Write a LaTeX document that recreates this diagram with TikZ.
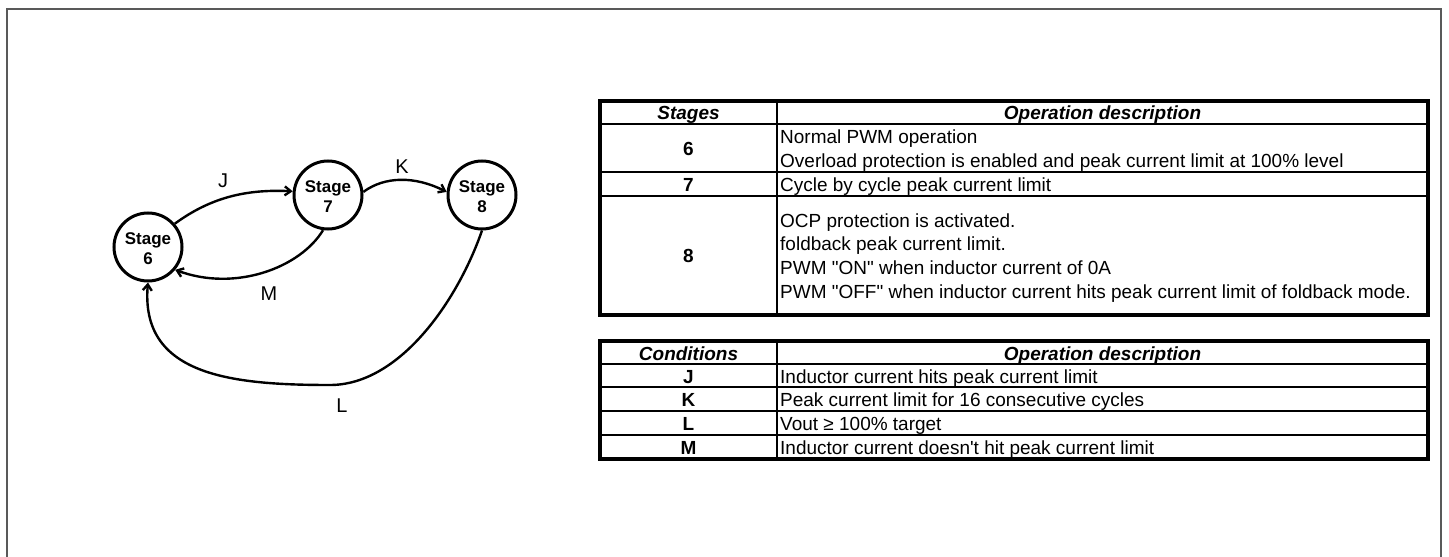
\documentclass[tikz,border=0pt]{standalone}
\usepackage{fontspec}
\setmainfont{Liberation Sans}[Ligatures=TeXOff]
\usetikzlibrary{arrows.meta}
\newcommand\tblfont{\fontsize{19.05}{24}\selectfont}
\newcommand\stgfont{\fontsize{17}{20}\selectfont}
\newcommand\lblfont{\fontsize{20}{22}\selectfont}
\begin{document}
\begin{tikzpicture}[x=1bp,y=-1bp,
  stage/.style={circle, draw, line width=3bp, minimum size=68bp, inner sep=0pt, align=center, font=\bfseries\stgfont},
  trans/.style={line width=2.4bp, -{Straight Barb[length=6bp,width=9bp]}},
  lbl/.style={font=\lblfont, inner sep=0pt},
  tout/.style={line width=3.5bp},
  tin/.style={line width=2bp},
  cell/.style={anchor=west, align=left, inner sep=0pt, font=\tblfont},
  one/.style={text height=15bp, text depth=0bp},
  key/.style={inner sep=0pt, font=\bfseries\tblfont, one},
  hdr/.style={inner sep=0pt, font=\bfseries\itshape\tblfont, one},
  frame/.style={draw=black!65, line width=1.5bp}
]
\useasboundingbox (0,0) rectangle (1449,557);
\draw[frame] (7,557) -- (7,9) -- (1441,9) -- (1441,557);

% state diagram
\node[stage] (s6) at (148,247) {\\[-4bp]Stage\\6};
\node[stage] (s7) at (328,195) {\\[-4bp]Stage\\7};
\node[stage] (s8) at (482,195) {\\[-4bp]Stage\\8};
\coordinate (lbot) at (330,385);
\draw[trans] (s6.41) .. controls (210,198) and (245,189) .. (s7.174);
\draw[trans] (s7.5) .. controls (385,176) and (415,176) .. (s8.175);
\draw[trans] (s7.262) .. controls (300,268) and (235,292) .. (s6.320);
\draw[trans] (s8.270) .. controls (458,300) and (400,385) .. (lbot)
                      .. controls (230,385) and (140,375) .. (s6.270);
\node[lbl] (lj) at (223,181) {J};
\node[lbl] (lk) at (402,167) {K};
\node[lbl] (lm) at (269,294) {M};
\node[lbl] (ll) at (342,406) {L};

% table 1
\draw[tin] (600,124) -- (1428,124);
\draw[tin] (600,172) -- (1428,172);
\draw[tin] (600,196) -- (1428,196);
\draw[tin] (777,101) -- (777,315);
\draw[tout] (600,101) rectangle (1428,315);
\node[hdr] (h1a) at (688.5,112.5) {Stages};
\node[hdr] (h1b) at (1102.5,112.5) {Operation description};
\node[key] (k6) at (688.5,148) {6};
\node[key] (k7) at (688.5,184) {7};
\node[key] (k8) at (688.5,255.5) {8};
\node[cell] (d6) at (780,150.5) {Normal PWM operation\\Overload protection is enabled and peak current limit at 100\% level};
\node[cell, one] (d7) at (780,184) {Cycle by cycle peak current limit};
\node[cell] (d8) at (780,258) {OCP protection is activated.\\foldback peak current limit.\\PWM "ON" when inductor current of 0A\\PWM "OFF" when inductor current hits peak current limit of foldback mode.};

% table 2
\draw[tin] (600,364) -- (1428,364);
\draw[tin] (600,387) -- (1428,387);
\draw[tin] (600,411) -- (1428,411);
\draw[tin] (600,435) -- (1428,435);
\draw[tin] (777,341) -- (777,459);
\draw[tout] (600,341) rectangle (1428,459);
\node[hdr] (h2a) at (688.5,352.5) {Conditions};
\node[hdr] (h2b) at (1102.5,352.5) {Operation description};
\node[key] (kj) at (688.5,375.5) {J};
\node[key] (kk) at (688.5,399) {K};
\node[key] (kl) at (688.5,423) {L};
\node[key] (km) at (688.5,447) {M};
\node[cell, one] (dj) at (780,375.5) {Inductor current hits peak current limit};
\node[cell, one] (dk) at (780,399) {Peak current limit for 16 consecutive cycles};
\node[cell, one] (dl) at (780,423) {Vout ≥ 100\% target};
\node[cell, one] (dm) at (780,447) {Inductor current doesn't hit peak current limit};
\end{tikzpicture}
\end{document}
